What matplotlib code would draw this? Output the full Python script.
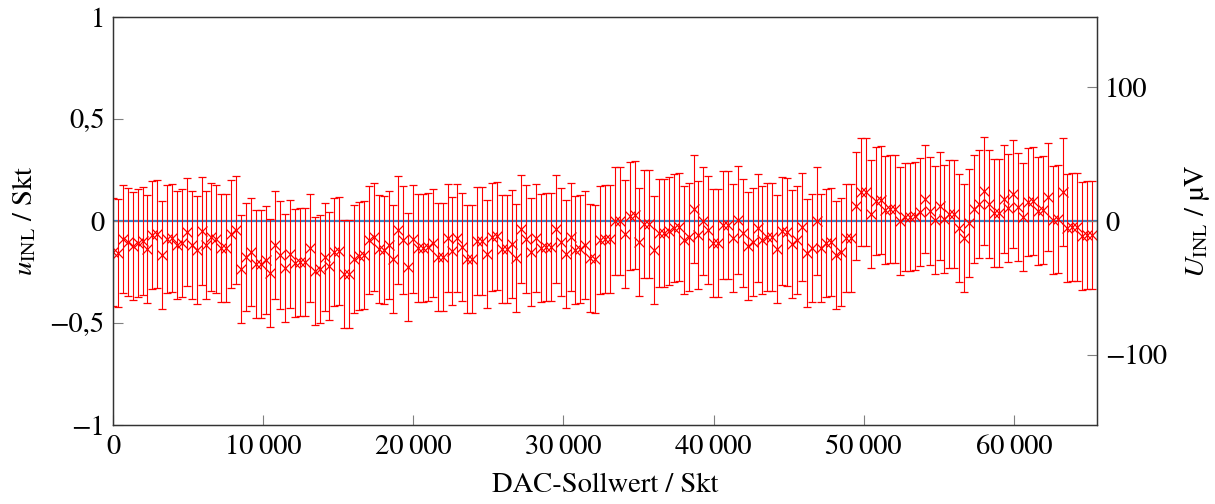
import numpy as np
import matplotlib
matplotlib.use("Agg")
import matplotlib.pyplot as plt
from matplotlib.ticker import FuncFormatter, FixedLocator

# INL je DAC-Sollwert (200 Stuetzstellen, Schrittweite 65536/200)
n_points = 200
dac_step = 65536 / n_points

u_inl = [
    -0.152, -0.158, -0.087, -0.101, -0.123, -0.109, -0.100, -0.136, -0.067, -0.062,
    -0.165, -0.087, -0.085, -0.119, -0.109, -0.054, -0.119, -0.142, -0.049, -0.119,
    -0.078, -0.090, -0.134, -0.131, -0.062, -0.046, -0.237, -0.175, -0.152, -0.212,
    -0.212, -0.191, -0.253, -0.119, -0.168, -0.229, -0.160, -0.208, -0.201, -0.201,
    -0.132, -0.245, -0.237, -0.175, -0.221, -0.152, -0.145, -0.261, -0.258, -0.188,
    -0.172, -0.167, -0.095, -0.078, -0.139, -0.142, -0.119, -0.185, -0.046, -0.095,
    -0.224, -0.087, -0.134, -0.131, -0.126, -0.109, -0.175, -0.175, -0.085, -0.147,
    -0.082, -0.126, -0.188, -0.185, -0.098, -0.098, -0.163, -0.077, -0.074, -0.136,
    -0.136, -0.114, -0.180, -0.041, -0.087, -0.152, -0.082, -0.131, -0.126, -0.126,
    -0.038, -0.103, -0.163, -0.078, -0.144, -0.139, -0.119, -0.180, -0.185, -0.093,
    -0.090, -0.090, 0.000, 0.000, -0.062, 0.025, 0.028, -0.103, -0.016, -0.013,
    -0.144, -0.057, -0.057, -0.049, -0.036, -0.028, -0.093, -0.078, 0.057, -0.070,
    0.000, -0.046, -0.109, -0.109, -0.021, -0.021, -0.085, 0.005, -0.060, -0.123,
    -0.103, -0.036, -0.095, -0.078, -0.078, -0.139, -0.049, -0.052, -0.114, -0.093,
    -0.028, -0.155, -0.134, 0.000, -0.131, -0.109, -0.103, -0.168, -0.152, -0.082,
    -0.082, 0.074, 0.142, 0.142, 0.033, 0.098, 0.101, 0.054, 0.060, 0.060,
    0.000, 0.020, 0.020, 0.025, 0.044, 0.109, 0.049, 0.005, 0.074, 0.011,
    0.033, 0.036, -0.033, -0.082, -0.008, 0.057, 0.082, 0.147, 0.085, 0.041,
    0.041, 0.109, 0.065, 0.134, 0.070, 0.021, 0.093, 0.098, 0.049, 0.052,
    0.119, 0.005, 0.008, 0.144, -0.036, -0.029, -0.029, -0.074, -0.070, -0.069,
]
u_err = 0.265          # Messunsicherheit / Skt
skt_in_uV = 10e6 / 65536   # 1 Skt in µV

x_ticks = [0, 10000, 20000, 30000, 40000, 50000, 60000]
y_ticks = [-1, -0.5, 0, 0.5, 1]
y2_ticks = [-100, 0, 100]

plt.rcParams["font.family"] = ["STIXGeneral", "DejaVu Serif"]
plt.rcParams["mathtext.fontset"] = "stix"
plt.rcParams["axes.unicode_minus"] = True

fs = 20.5
dac = np.arange(n_points) * dac_step

fig = plt.figure(figsize=(12.15, 5.04), dpi=100)
ax = fig.add_axes([113 / 1215, 1 - 425 / 504, 984 / 1215, 408 / 504])

ax.axhline(0, color="#3a7fc0", lw=1.6, zorder=1)
ax.errorbar(dac, u_inl, yerr=u_err, fmt="x", color="#ff0000", ecolor="#ff0000",
            elinewidth=0.8, capsize=3, capthick=0.8, markersize=6.5, mew=0.9, zorder=2)

ax.set_xlim(0, 65535)
ax.set_ylim(-1, 1)


def de_num(v, pos=None):
    if abs(v - round(v)) < 1e-9:
        s = f"{int(round(v)):,}".replace(",", "\u2009")
    else:
        s = f"{v:g}".replace(".", ",")
    return s.replace("-", "\u2212")


ax.xaxis.set_major_locator(FixedLocator(x_ticks))
ax.yaxis.set_major_locator(FixedLocator(y_ticks))
ax.xaxis.set_major_formatter(FuncFormatter(de_num))
ax.yaxis.set_major_formatter(FuncFormatter(de_num))
ax.tick_params(direction="in", length=7, width=0.8, color="#808080", labelsize=fs, pad=6)
ax.tick_params(axis="x", pad=7)

ax.set_xlabel("DAC-Sollwert / Skt", fontsize=fs, labelpad=9)
ax.set_ylabel(r"$u_{\mathrm{INL}}$ / Skt", fontsize=fs, labelpad=8)

ax2 = ax.twinx()
ax2.set_ylim(-skt_in_uV, skt_in_uV)
ax2.yaxis.set_major_locator(FixedLocator(y2_ticks))
ax2.yaxis.set_major_formatter(FuncFormatter(de_num))
ax2.tick_params(direction="in", length=7, width=0.8, color="#808080", labelsize=fs, pad=6)
ax2.set_ylabel(r"$U_{\mathrm{INL}}$ / µV", fontsize=fs, labelpad=11)

for a in (ax, ax2):
    for s in a.spines.values():
        s.set_linewidth(0.9)
        s.set_color("#333333")

fig.savefig("out.png", dpi=100)
